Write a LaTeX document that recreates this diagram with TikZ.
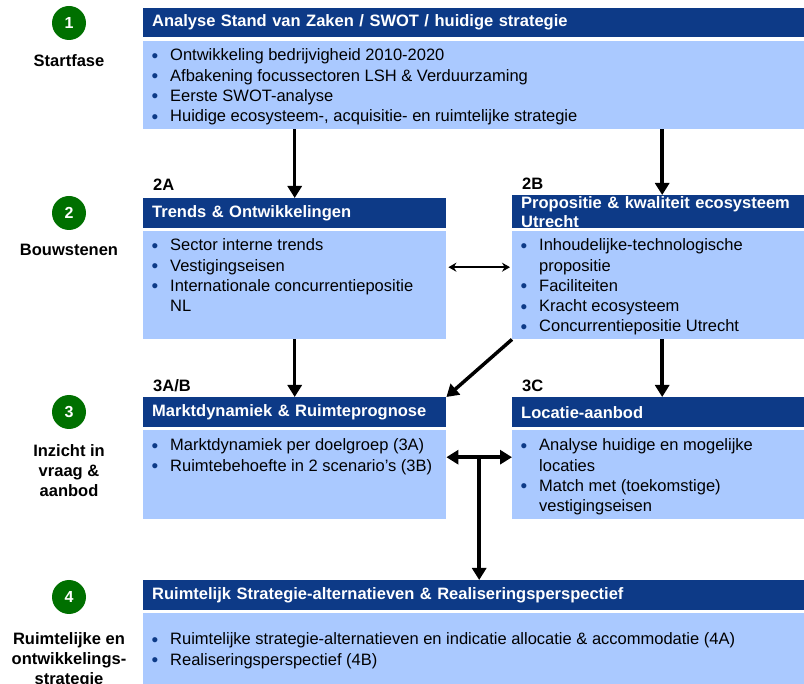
\documentclass[tikz,border=0pt]{standalone}
\usepackage{fontspec}
\setmainfont{Liberation Sans}
\usetikzlibrary{arrows.meta,positioning}

\definecolor{kopblauw}{RGB}{13,58,135}
\definecolor{lichtblauw}{RGB}{170,201,255}
\definecolor{fasegroen}{RGB}{0,112,0}

% opsommingspunt met hangende inspringing
\newcommand{\punt}[1]{\par\hangindent=18pt\hangafter=1\noindent\strut\makebox[18pt][l]{\hspace{-0.5pt}\raisebox{-1.5pt}{\textcolor{kopblauw}{\fontsize{19}{19}\selectfont •}}}#1\par}
% inhoud van een blok: breedte, hoogte, ruimte boven
\newcommand{\vak}[4]{\parbox[t][#2][t]{#1}{\raggedright\leftskip=9pt\vspace*{#3}#4}}

\begin{document}
\begin{tikzpicture}[x=1pt, y=-1pt,
    kop/.style={rectangle, fill=kopblauw, text=white, font=\bfseries\fontsize{16.5}{19}\selectfont, anchor=north west, align=left, inner xsep=9pt, inner ysep=0pt, minimum height=30pt},
    inhoud/.style={rectangle, fill=lichtblauw, anchor=north west, inner sep=0pt, font=\fontsize{16.5}{20.3}\selectfont},
    fase/.style={circle, fill=fasegroen, text=white, font=\bfseries\fontsize{16}{16}\selectfont, minimum size=34pt, inner sep=0pt},
    fasetekst/.style={align=center, anchor=north, inner sep=0pt, font=\bfseries\fontsize{16.5}{20.3}\selectfont},
    nummer/.style={anchor=base west, inner sep=0pt, font=\bfseries\fontsize{16.5}{16.5}\selectfont},
    pijl/.style={-{Triangle[length=12pt,width=14pt]}, line width=3.5pt},
    dubbel/.style={{Triangle[length=12pt,width=14pt]}-{Triangle[length=12pt,width=14pt]}, line width=3.5pt},
    dun/.style={{Stealth[length=8pt,width=9pt]}-{Stealth[length=8pt,width=9pt]}, line width=2pt}
]
    \useasboundingbox (0,0) rectangle (804,684);

    % Fasen
    \node[fase] (f1) at (69,23) {1};
    \node[fasetekst] (f1t) at (69,54) {Startfase};
    \node[fase] (f2) at (69,213) {2};
    \node[fasetekst] (f2t) at (69,244) {Bouwstenen};
    \node[fase] (f3) at (69,412) {3};
    \node[fasetekst] (f3t) at (69,444) {Inzicht in\\vraag \&\\aanbod};
    \node[fase] (f4) at (69,597) {4};
    \node[fasetekst] (f4t) at (69,632) {Ruimtelijke en\\ontwikkelings-\\strategie};

    % Startfase
    \node[kop, text width=643pt, minimum height=29pt] (h1) at (143,8) {Analyse Stand van Zaken / SWOT / huidige strategie};
    \node[inhoud] (b1) at (143,41) {\vak{661pt}{88pt}{5.3pt}{%
        \punt{Ontwikkeling bedrijvigheid 2010-2020}
        \punt{Afbakening focussectoren LSH \& Verduurzaming}
        \punt{Eerste SWOT-analyse}
        \punt{Huidige ecosysteem-, acquisitie- en ruimtelijke strategie}}};

    % Bouwstenen
    \node[nummer] (n2a) at (153,190.5) {2A};
    \node[nummer] (n2b) at (522,189.5) {2B};
    \node[kop, text width=285pt] (h2a) at (143,198) {Trends \& Ontwikkelingen};
    \node[inhoud] (b2a) at (143,231) {\vak{303pt}{108pt}{5.3pt}{%
        \punt{Sector interne trends}
        \punt{Vestigingseisen}
        \punt{Internationale concurrentiepositie\newline NL}}};
    \node[kop, text width=274pt, minimum height=33pt] (h2b) at (512,195) {Propositie \& kwaliteit ecosysteem\\Utrecht};
    \node[inhoud] (b2b) at (512,231) {\vak{292pt}{108pt}{5.3pt}{%
        \punt{Inhoudelijke-technologische\newline propositie}
        \punt{Faciliteiten}
        \punt{Kracht ecosysteem}
        \punt{Concurrentiepositie Utrecht}}};

    % Inzicht in vraag & aanbod
    \node[nummer] (n3a) at (153,392) {3A/B};
    \node[nummer] (n3c) at (522,392) {3C};
    \node[kop, text width=285pt] (h3a) at (143,397) {Marktdynamiek \& Ruimteprognose};
    \node[inhoud] (b3a) at (143,430) {\vak{303pt}{89pt}{6.3pt}{%
        \punt{Marktdynamiek per doelgroep (3A)}
        \punt{Ruimtebehoefte in 2 scenario’s (3B)}}};
    \node[kop, text width=274pt] (h3c) at (512,397) {Locatie-aanbod};
    \node[inhoud] (b3c) at (512,430) {\vak{292pt}{89pt}{6.3pt}{%
        \punt{Analyse huidige en mogelijke\newline locaties}
        \punt{Match met (toekomstige)\newline vestigingseisen}}};

    % Ruimtelijke en ontwikkelingsstrategie
    \node[kop, text width=643pt] (h4) at (143,580) {Ruimtelijk Strategie-alternatieven \& Realiseringsperspectief};
    \node[inhoud] (b4) at (143,613) {\vak{661pt}{71pt}{17.3pt}{%
        \punt{Ruimtelijke strategie-alternatieven en indicatie allocatie \& accommodatie (4A)}
        \punt{Realiseringsperspectief (4B)}}};

    % Pijlen
    \draw[pijl] (b1.south -| h2a.north) -- (h2a.north);
    \draw[pijl] ([xshift=4pt]b1.south -| h2b.north) -- ([xshift=4pt]h2b.north);
    \draw[dun, shorten <=2pt, shorten >=2pt] ([yshift=18pt]b2a.east) -- ([yshift=18pt]b2a.east -| b2b.west);
    \draw[pijl] (b2a.south) -- (h3a.north);
    \draw[pijl] (b2b.south west) -- (h3a.north east);
    \draw[pijl] ([xshift=4pt]b2b.south) -- ([xshift=4pt]h3c.north);
    \draw[dubbel] ([yshift=17.5pt]b3a.east) -- coordinate[pos=0.5] (midden) ([yshift=17.5pt]b3a.east -| b3c.west);
    \draw[pijl] (midden) -- (midden |- h4.north);
\end{tikzpicture}
\end{document}
